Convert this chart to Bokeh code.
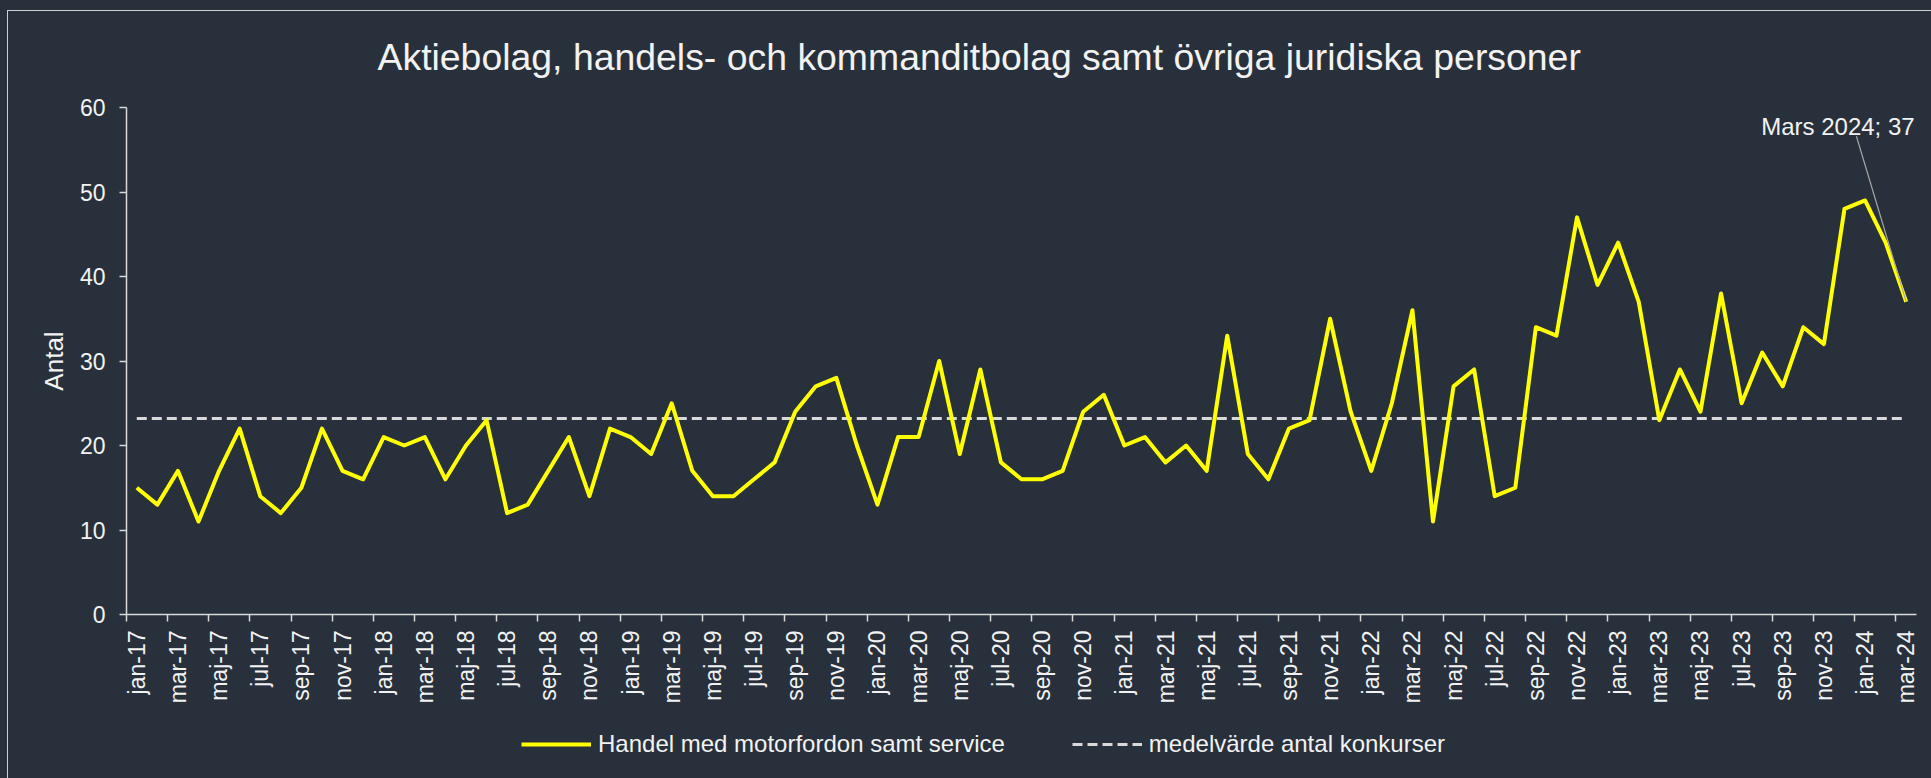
import numpy as np
from bokeh.plotting import figure
from bokeh.layouts import column
from bokeh.models import (Range1d, FixedTicker, Legend, LegendItem, Label,
                          ColumnDataSource, GlobalInlineStyleSheet)
from bokeh.embed import file_html
from bokeh.resources import INLINE

# ---------------- data ----------------
month_names = ["jan", "feb", "mar", "apr", "maj", "jun", "jul", "aug", "sep", "okt", "nov", "dec"]
years = ["17", "18", "19", "20", "21", "22", "23", "24"]
categories = [f"{m}-{y}" for y in years for m in month_names][:87]

values_2017 = [15, 13, 17, 11, 17, 22, 14, 12, 15, 22, 17, 16]
values_2018 = [21, 20, 21, 16, 20, 23, 12, 13, 17, 21, 14, 22]
values_2019 = [21, 19, 25, 17, 14, 14, 16, 18, 24, 27, 28, 20]
values_2020 = [13, 21, 21, 30, 19, 29, 18, 16, 16, 17, 24, 26]
values_2021 = [20, 21, 18, 20, 17, 33, 19, 16, 22, 23, 35, 24]
values_2022 = [17, 25, 36, 11, 27, 29, 14, 15, 34, 33, 47, 39]
values_2023 = [44, 37, 23, 29, 24, 38, 25, 31, 27, 34, 32, 48]
values_2024 = [49, 44, 37]
konkurser = (values_2017 + values_2018 + values_2019 + values_2020 +
             values_2021 + values_2022 + values_2023 + values_2024)
mean_value = 23.2

title_text = "Aktiebolag, handels- och kommanditbolag samt övriga juridiska personer"
series_name = "Handel med motorfordon samt service"
mean_name = "medelvärde antal konkurser"
annotation_text = "Mars 2024; 37"
y_axis_label = "Antal"
y_ticks = [0, 10, 20, 30, 40, 50, 60]

# ---------------- style ----------------
BG = "#28313b"
TXT = "#f2f2f2"
AX = "#d9d9d9"
FONT = "Liberation Sans"
YELLOW = "#ffff00"

n = len(categories)
xs = list(range(n))

p = figure(width=1931, height=710,
           x_range=Range1d(-0.5, n - 0.5), y_range=Range1d(y_ticks[0], y_ticks[-1]),
           output_backend="svg", toolbar_location=None,
           min_border_left=126, min_border_right=15,
           min_border_top=107, min_border_bottom=96)
p.background_fill_color = BG
p.border_fill_color = BG
p.outline_line_color = None
p.xgrid.visible = False
p.ygrid.visible = False

p.title.text = title_text
p.title.text_font = FONT
p.title.text_font_size = "37.4px"
p.title.text_font_style = "normal"
p.title.text_color = TXT
p.title.align = "left"
p.title.offset = 251
p.title.standoff = 60

# x axis: labels on every second category, tick marks between categories
xa = p.xaxis[0]
major = [i for i in xs if i % 2 == 0]
xa.ticker = FixedTicker(ticks=major, minor_ticks=[i - 0.5 for i in major])
xa.major_label_overrides = {i: categories[i] for i in major}
xa.major_label_orientation = np.pi / 2
xa.major_tick_line_color = None
xa.major_tick_out = 7
xa.major_tick_in = 0
xa.minor_tick_line_color = AX
xa.minor_tick_line_width = 1.5
xa.minor_tick_out = 7
xa.minor_tick_in = 0
xa.major_label_standoff = 9
xa.axis_line_color = AX
xa.axis_line_width = 1.5
xa.major_label_text_font = FONT
xa.major_label_text_font_size = "23px"
xa.major_label_text_color = TXT

ya = p.yaxis[0]
ya.ticker = FixedTicker(ticks=y_ticks)
ya.minor_tick_line_color = None
ya.major_tick_out = 7
ya.major_tick_in = 0
ya.major_tick_line_color = AX
ya.major_tick_line_width = 1.5
ya.axis_line_color = AX
ya.axis_line_width = 1.5
ya.major_label_standoff = 14
ya.major_label_text_font = FONT
ya.major_label_text_font_size = "23px"
ya.major_label_text_color = TXT
ya.axis_label = y_axis_label
ya.axis_label_text_font = FONT
ya.axis_label_text_font_size = "26px"
ya.axis_label_text_font_style = "normal"
ya.axis_label_text_color = TXT
ya.axis_label_standoff = 8

src = ColumnDataSource(dict(x=xs, y=konkurser, m=[mean_value] * n))
line_style = dict(line_color=YELLOW, line_width=4, line_join="round")
mean_style = dict(line_color=AX, line_width=3, line_dash="10 5")
p.line("x", "m", source=src, **mean_style)
p.line("x", "y", source=src, **line_style)

# annotation with leader line for the last point
last_x = xs[-1]
last_y = konkurser[-1]
p.segment(x0=[last_x - 2.42], y0=[last_y + 19.6], x1=[last_x], y1=[last_y],
          line_color="#a6a6a6", line_width=1.2)
p.add_layout(Label(x=last_x, y=last_y, x_offset=-145, y_offset=175, text=annotation_text,
                   text_font=FONT, text_font_size="24px", text_color=TXT,
                   text_baseline="alphabetic"))

p.stylesheets = [GlobalInlineStyleSheet(css=(
    "html, body {background:%s; overflow:hidden;}"
    "body::after {content:''; position:fixed; left:7px; top:10px; width:4000px; height:4000px;"
    " border:1.5px solid #cfcfcf; pointer-events:none; z-index:100;}" % BG))]

# ---------------- legend strip below the chart ----------------
# (same series, drawn outside this strip's visible ranges; only their legend glyphs show)
pl = figure(width=1931, height=68, x_range=Range1d(-3, -2), y_range=Range1d(-3, -2),
            output_backend="svg", toolbar_location=None,
            min_border_left=0, min_border_right=0, min_border_top=0, min_border_bottom=0)
pl.background_fill_color = BG
pl.border_fill_color = BG
pl.outline_line_color = None
pl.axis.visible = False
pl.grid.visible = False
leg_line = pl.line("x", "y", source=src, **line_style)
leg_mean = pl.line("x", "m", source=src, **mean_style)
legend = Legend(items=[LegendItem(label=series_name, renderers=[leg_line]),
                       LegendItem(label=mean_name, renderers=[leg_mean])],
                orientation="horizontal", location=(395, 20),
                background_fill_alpha=0, border_line_color=None,
                label_text_font=FONT, label_text_font_size="24px", label_text_color=TXT,
                glyph_width=70, glyph_height=28, label_height=28,
                label_standoff=7, spacing=67, padding=0, margin=0)
pl.add_layout(legend)

layout = column(p, pl, spacing=0)
open("out.html", "w").write(file_html(layout, INLINE))
